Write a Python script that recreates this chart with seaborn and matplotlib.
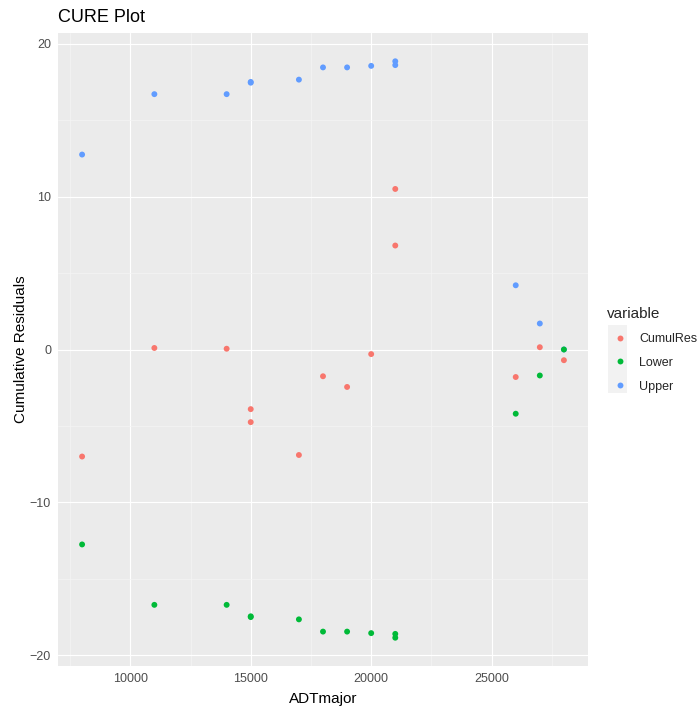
import matplotlib
matplotlib.use("Agg")
import matplotlib.pyplot as plt
import seaborn as sns
import pandas as pd
from matplotlib.patches import Rectangle
from matplotlib.ticker import MultipleLocator

# ---- data ----
adt_major = [8000, 11000, 14000, 15000, 15000, 17000, 18000, 19000, 20000,
             21000, 21000, 26000, 27000, 28000]
cumul_res = [-7.0, 0.1, 0.05, -3.9, -4.75, -6.9, -1.75, -2.45, -0.3,
             6.8, 10.5, -1.8, 0.15, -0.7]
upper = [12.75, 16.7, 16.7, 17.45, 17.5, 17.65, 18.45, 18.45, 18.55,
         18.6, 18.85, 4.2, 1.7, 0.0]
lower = [-v for v in upper]
variables = ["CumulRes", "Lower", "Upper"]
palette = {"CumulRes": "#F8766D", "Lower": "#00BA38", "Upper": "#619CFF"}

# long form; Upper drawn first so the last Lower point sits on top
df = pd.concat([
    pd.DataFrame({"ADTmajor": adt_major, "value": upper, "variable": "Upper"}),
    pd.DataFrame({"ADTmajor": adt_major, "value": cumul_res, "variable": "CumulRes"}),
    pd.DataFrame({"ADTmajor": adt_major, "value": lower, "variable": "Lower"}),
], ignore_index=True)

sns.set_theme(style="darkgrid")
plt.rcParams["font.family"] = ["Liberation Sans", "DejaVu Sans"]

fig = plt.figure(figsize=(7.0, 7.08), dpi=100)
ax = fig.add_axes([58/700, 1-666/708, (588-58)/700, (666-33)/708])
ax.set_facecolor("#EBEBEB")

sns.scatterplot(data=df, x="ADTmajor", y="value", hue="variable",
                hue_order=variables, palette=palette, s=18, linewidth=0,
                ax=ax, legend=True)

ax.set_xlim(7000, 29000)
ax.set_ylim(-20.7, 20.7)
ax.xaxis.set_major_locator(MultipleLocator(5000))
ax.xaxis.set_minor_locator(MultipleLocator(2500))
ax.yaxis.set_major_locator(MultipleLocator(10))
ax.yaxis.set_minor_locator(MultipleLocator(5))
ax.grid(which="major", color="white", linewidth=0.85)
ax.grid(which="minor", color="#F4F4F4", linewidth=0.5)
ax.set_axisbelow(True)
for sp in ax.spines.values():
    sp.set_visible(False)
ax.tick_params(which="major", length=3, width=0.8, color="#333333",
               labelsize=9, labelcolor="#4D4D4D", pad=2)
ax.tick_params(which="minor", length=0)

ax.set_xlabel("ADTmajor", fontsize=11, color="black", labelpad=5)
ax.set_ylabel("Cumulative Residuals", fontsize=11, color="black", labelpad=1)
fig.text(58/700, 1-17/708, "CURE Plot", fontsize=13, color="black",
         ha="left", va="center")

handles, labels = ax.get_legend_handles_labels()
ax.legend_.remove()
fig.patches.append(Rectangle((608/700, 1-393/708), 19/700, 68/708,
                             transform=fig.transFigure, facecolor="#F2F2F2",
                             edgecolor="none", zorder=0))
leg = fig.legend(handles, labels, title="variable", loc="upper left",
                 bbox_to_anchor=(602/700, 1-302/708), frameon=False,
                 alignment="left", fontsize=9, title_fontsize=11,
                 handletextpad=0.6, labelspacing=0.95, markerscale=1.0,
                 borderaxespad=0)

fig.savefig("out.png", dpi=100, facecolor="white")
